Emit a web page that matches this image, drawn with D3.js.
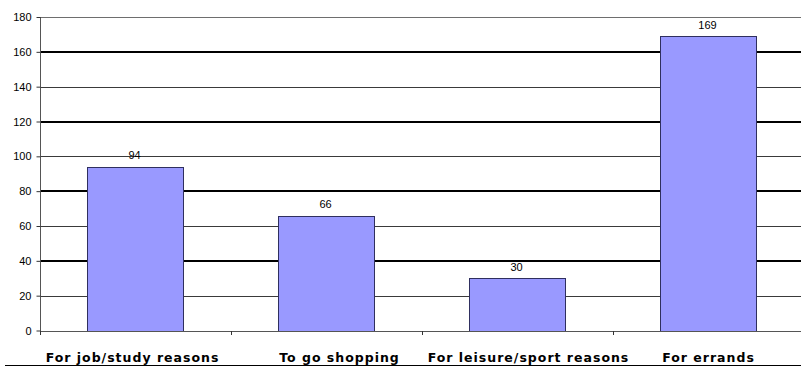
<!DOCTYPE html>
<html>
<head>
<meta charset="utf-8">
<script src="https://cdn.jsdelivr.net/npm/d3@7/dist/d3.min.js"></script>
<style>
  html, body { margin: 0; padding: 0; background: #ffffff; }
  svg { display: block; }
</style>
</head>
<body>
<svg id="chart" width="801" height="367"></svg>
<script>
// Trip purposes and number of trips
const categories = ["For job/study reasons", "To go shopping", "For leisure/sport reasons", "For errands"];
const values = [94, 66, 30, 169];
const yTicks = [0, 20, 40, 60, 80, 100, 120, 140, 160, 180];

const svg = d3.select("#chart");
const plot = { left: 40, right: 804, top: 17, bottom: 330.5 };

const x = d3.scaleBand()
  .domain(categories)
  .range([plot.left, plot.right])
  .paddingInner(0.5)
  .paddingOuter(0.25);

const y = d3.scaleLinear()
  .domain([0, 180])
  .range([plot.bottom, plot.top]);

// horizontal gridlines: heavy at every 40, light in between
svg.append("g")
  .selectAll("line")
  .data(yTicks.filter(d => d > 0))
  .join("line")
  .attr("x1", plot.left)
  .attr("x2", plot.right)
  .attr("y1", d => Math.round(y(d)) + (d % 40 === 0 ? 0 : 0.5))
  .attr("y2", d => Math.round(y(d)) + (d % 40 === 0 ? 0 : 0.5))
  .attr("stroke", d => d % 40 === 0 ? "#000000" : (d === 180 ? "#6e6e6e" : "#3a3a3a"))
  .attr("stroke-width", d => d % 40 === 0 ? 2 : 1);

// bars
svg.append("g")
  .selectAll("rect")
  .data(categories)
  .join("rect")
  .attr("x", d => Math.round(x(d)) - 0.5)
  .attr("y", (d, i) => Math.round(y(values[i])) + 0.5)
  .attr("width", Math.round(x.bandwidth()))
  .attr("height", (d, i) => Math.round(y(0)) - Math.round(y(values[i])))
  .attr("fill", "#9999ff")
  .attr("stroke", "#2f2f5f")
  .attr("stroke-width", 1);

// value labels above the bars
svg.append("g")
  .selectAll("text")
  .data(categories)
  .join("text")
  .attr("x", d => x(d) + x.bandwidth() / 2 - 1)
  .attr("y", (d, i) => y(values[i]) - 7.5)
  .attr("text-anchor", "middle")
  .attr("font-family", "Arial, 'Liberation Sans', sans-serif")
  .attr("font-size", 11)
  .attr("fill", "#000")
  .text((d, i) => values[i]);

// y axis
const yAxis = d3.axisLeft(y)
  .tickValues(yTicks)
  .tickSize(4)
  .tickPadding(5)
  .tickFormat(d3.format("d"));

const yg = svg.append("g")
  .attr("transform", `translate(${plot.left + 0.5},0)`)
  .call(yAxis);
yg.select(".domain").attr("stroke", "#555").attr("d", `M0,${plot.top}V${Math.round(plot.bottom) + 0.5}`);
yg.selectAll(".tick line").attr("stroke", "#333");
yg.selectAll(".tick text")
  .attr("font-family", "Arial, 'Liberation Sans', sans-serif")
  .attr("font-size", 11)
  .attr("fill", "#000");

// category axis baseline with ticks between categories
const bounds = categories.map(c => x(c) - x.step() * x.paddingInner() / 2);
const xg = svg.append("g");
xg.append("line")
  .attr("x1", plot.left)
  .attr("x2", plot.right)
  .attr("y1", Math.round(plot.bottom) + 0.5)
  .attr("y2", Math.round(plot.bottom) + 0.5)
  .attr("stroke", "#555");
xg.selectAll("line.tick")
  .data(bounds)
  .join("line")
  .attr("class", "tick")
  .attr("x1", d => Math.round(d) + 0.5)
  .attr("x2", d => Math.round(d) + 0.5)
  .attr("y1", Math.round(plot.bottom))
  .attr("y2", Math.round(plot.bottom) + 4)
  .attr("stroke", "#333");

// underlined category captions
const captionShift = [-3, 13, 11, 0];
svg.append("g")
  .selectAll("text")
  .data(categories)
  .join("text")
  .attr("x", (d, i) => x(d) + x.bandwidth() / 2 + captionShift[i])
  .attr("y", 361.5)
  .attr("text-anchor", "middle")
  .attr("font-family", "'DejaVu Sans', Verdana, sans-serif")
  .attr("font-weight", "bold")
  .attr("font-size", 12.5)
  .attr("letter-spacing", 1)
  .attr("fill", "#000")
  .text(d => d);

svg.append("line")
  .attr("x1", 5)
  .attr("x2", 801)
  .attr("y1", 365.5)
  .attr("y2", 365.5)
  .attr("stroke", "#000")
  .attr("stroke-width", 1);
</script>
</body>
</html>
